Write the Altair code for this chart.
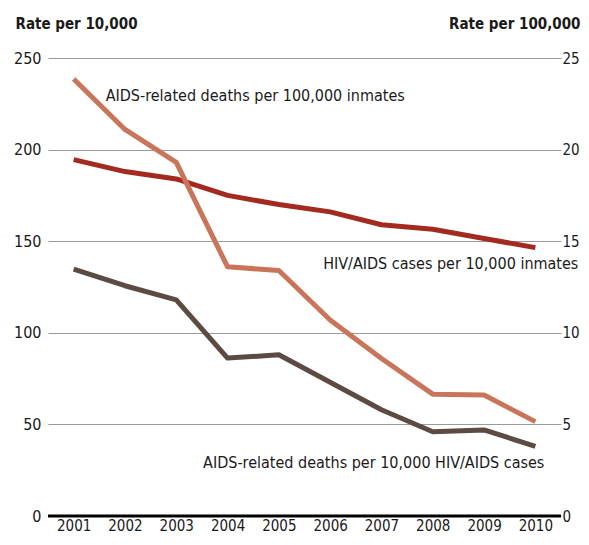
import altair as alt
import pandas as pd

years = ["2001", "2002", "2003", "2004", "2005", "2006", "2007", "2008", "2009", "2010"]
hiv_cases_per_10k_inmates = [194.5, 188, 184, 175, 170, 166, 159, 156.5, 151.5, 146.5]
deaths_per_10k_cases = [134.8, 125.7, 118, 86.2, 88, 73, 58, 46, 47, 38]
deaths_per_100k_inmates = [23.85, 21.1, 19.3, 13.6, 13.4, 10.7, 8.6, 6.65, 6.6, 5.15]
left_ticks = [0, 50, 100, 150, 200, 250]
right_ticks = [0, 5, 10, 15, 20, 25]

series_names = ["HIV/AIDS cases per 10,000 inmates", "AIDS-related deaths per 10,000 HIV/AIDS cases"]
series_colors = ["#a32a1e", "#5c4b42"]
right_color = "#c9755b"

label_texts = ["AIDS-related deaths per 100,000 inmates",
               "HIV/AIDS cases per 10,000 inmates",
               "AIDS-related deaths per 10,000 HIV/AIDS cases"]
label_years = ["2001", "2010", "2010"]
label_values = [229, 137.5, 29]

FONT = "DejaVu Sans Condensed, Roboto Condensed, Liberation Sans Narrow, Roboto, sans-serif"
TXT = "#1a1a1a"

left_df = pd.DataFrame({
    "year": years * 2,
    "value": hiv_cases_per_10k_inmates + deaths_per_10k_cases,
    "series": [series_names[0]] * len(years) + [series_names[1]] * len(years),
})
right_df = pd.DataFrame({"year": years, "value": deaths_per_100k_inmates})

xscale = alt.Scale(type="point", padding=0.5)
xaxis = alt.Axis(title=None, labelAngle=0, ticks=False, domain=False,
                 labelFontSize=15, labelPadding=2, labelColor=TXT, labelFont=FONT)

yscale_left = alt.Scale(domain=[0, 250])
yscale_right = alt.Scale(domain=[0, 25])

left_axis = alt.Axis(values=left_ticks, title="Rate per 10,000", titleAngle=0,
                     titleAlign="left", titleBaseline="alphabetic", titleX=-33, titleY=-30,
                     titleFontSize=15, titleFontWeight="bold", titleFont=FONT, titleColor=TXT,
                     grid=True, gridColor="#9a9a9a", gridWidth=1, ticks=False, domain=False,
                     labelPadding=7, labelFontSize=16, labelFont=FONT, labelColor=TXT)

left_lines = alt.Chart(left_df).mark_line(strokeWidth=5, strokeJoin="round").encode(
    x=alt.X("year:O", scale=xscale, axis=xaxis),
    y=alt.Y("value:Q", scale=yscale_left, axis=left_axis),
    color=alt.Color("series:N", scale=alt.Scale(domain=series_names, range=series_colors), legend=None),
    detail="series:N",
)


def label(i, align, dx):
    df = pd.DataFrame({"year": [label_years[i]], "value": [label_values[i]], "t": [label_texts[i]]})
    return alt.Chart(df).mark_text(align=align, baseline="middle", dx=dx, fontSize=16,
                                   font=FONT, color=TXT).encode(
        x=alt.X("year:O", scale=xscale, axis=xaxis),
        y=alt.Y("value:Q", scale=yscale_left, axis=left_axis),
        text="t:N",
    )


labels = label(0, "left", 32) + label(1, "right", 43) + label(2, "right", 9)

baseline = alt.Chart(pd.DataFrame({"v": [0]})).mark_rule(color="black", strokeWidth=3).encode(
    y=alt.Y("v:Q", scale=yscale_left, axis=left_axis))

left = alt.layer(left_lines, labels, baseline)

right = alt.Chart(right_df).mark_line(strokeWidth=5, strokeJoin="round",
                                      color=right_color).encode(
    x=alt.X("year:O", scale=xscale, axis=xaxis),
    y=alt.Y("value:Q", scale=yscale_right,
            axis=alt.Axis(orient="right", values=right_ticks, title="Rate per 100,000", titleAngle=0,
                          titleAlign="right", titleBaseline="alphabetic", titleX=19, titleY=-30,
                          titleFontSize=15, titleFontWeight="bold", titleFont=FONT, titleColor=TXT,
                          grid=False, ticks=False, domain=False,
                          labelPadding=1, labelFontSize=15, labelFont=FONT, labelColor=TXT)),
)

chart = alt.layer(left, right).resolve_scale(y="independent").properties(
    width=513, height=458,
    autosize=alt.AutoSizeParams(type="none"),
    padding={"left": 40, "top": 50, "right": 20, "bottom": 17},
).configure_view(stroke=None)

chart.save("out.html", embed_options={"renderer": "svg", "actions": False})
